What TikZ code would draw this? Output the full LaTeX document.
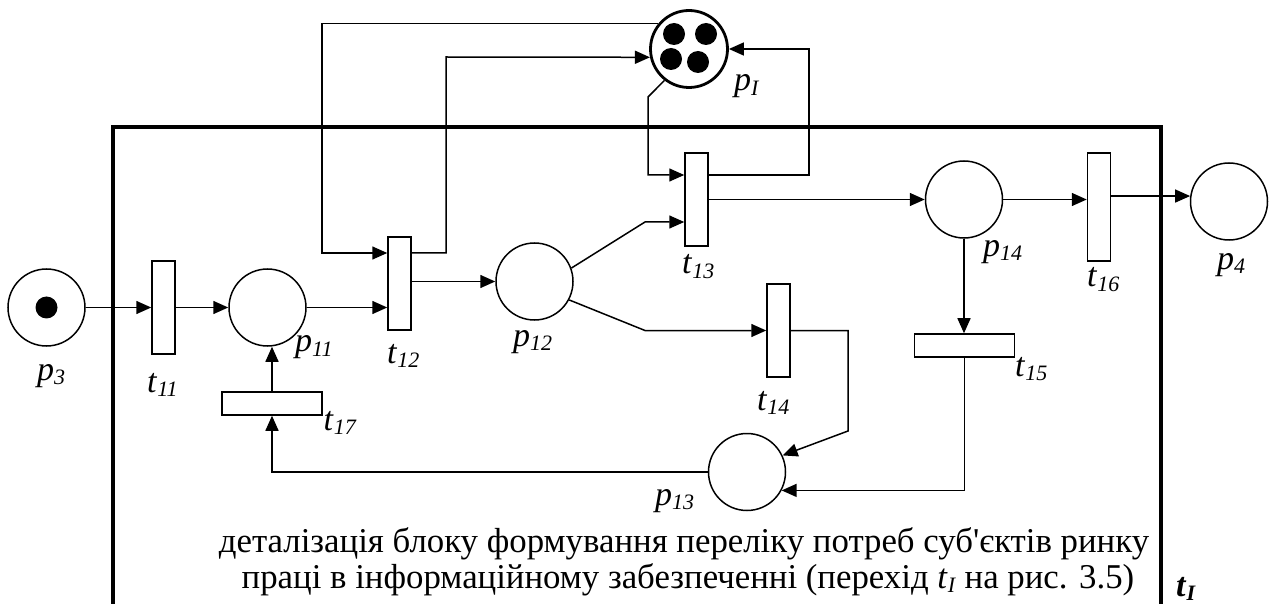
\documentclass[tikz,border=0pt]{standalone}
\usepackage{fontspec}
\setmainfont{Liberation Serif}
% same face without the TeX quote mapping, for a straight apostrophe
\newfontfamily\plainserif{Liberation Serif}
\usetikzlibrary{arrows.meta}

% italic name with a lowered italic index
\newcommand\pname[2]{\textit{#1}\raisebox{-4.5pt}{\fontsize{22}{22}\selectfont\textit{#2}}}

\begin{document}
\begin{tikzpicture}[x=1pt,y=-1pt,
  every node/.style={font=\fontsize{34}{36}\selectfont},
  place/.style={circle,draw,line width=1.5pt,minimum size=77pt,inner sep=0pt},
  trans/.style={rectangle,draw,line width=1.5pt,inner sep=0pt},
  vtrans/.style={trans,minimum width=23pt,minimum height=93pt},
  htrans/.style={trans,minimum width=100pt,minimum height=23pt},
  arc/.style={line width=1.5pt,-{Triangle[length=15pt,width=13pt]}},
  token/.style={circle,fill,inner sep=0pt,minimum size=22pt},
  lab/.style={anchor=base west,inner sep=0pt},
  captext/.style={anchor=base,inner sep=0pt,font=\fontsize{34.8}{36}\selectfont},
  boxline/.style={line width=4pt},
]
\useasboundingbox (0,0) rectangle (1270,604);

% block boundary (open at the bottom)
\draw[boxline] (113,615) -- (113,127) -- (1161,127) -- (1161,615);

% places
\node[place] (p3) at (46.5,307.5) {};
\node[place] (p11) at (267.5,307.5) {};
\node[place] (p12) at (534.5,281.5) {};
\node[place] (p14) at (964,199.5) {};
\node[place] (p4) at (1229,201.5) {};
\node[place] (p13) at (747,472) {};
\node[place, line width=2.8pt] (pI) at (689,49) {};

% tokens
\node[token] (k3) at (p3) {};
\node[token] (k1) at (674,34) {};
\node[token] (k2) at (706,34) {};
\node[token] (k4) at (671,59) {};
\node[token] (k5) at (698,62) {};

% transitions
\node[vtrans] (t11) at (163.5,307.5) {};
\node[vtrans] (t12) at (399.5,283.5) {};
\node[vtrans] (t13) at (696.5,199.5) {};
\node[vtrans] (t14) at (778.5,330.5) {};
\node[vtrans, minimum height=108pt] (t16) at (1099,207) {};
\node[htrans] (t15) at (964.5,345.5) {};
\node[htrans] (t17) at (272,403.5) {};

% arcs
\draw[arc] (p3) -- (t11);
\draw[arc] (t11) -- (p11);
\draw[arc] (p11.east) -- (t12.west |- p11.east);
\draw[arc] (t12.east |- p12.west) -- (p12.west);
\draw[arc] (pI.140) -| (322,253) -- (t12.west |- 0,253);
\draw[arc] (t12.east |- 0,253) -| (446,57) -- (pI.192);
\draw[arc] (pI.232) -- (648,97) |- (t13.west |- 0,175);
\draw[arc] (t13.east |- 0,175) -| (809,49) -- (pI.east);
\draw[arc] (p12.20) -- (645,222) -- (t13.west |- 0,222);
\draw[arc] (p12.-28) -- (645,330.5) -- (t14.west);
\draw[arc] (t13.east |- p14.west) -- (p14.west);
\draw[arc] (p14.east) -- (t16.west |- p14.east);
\draw[arc] (t16.east |- p4.172) -- (p4.172);
\draw[arc] (p14.south) -- (p14.south |- t15.north);
\draw[arc] (t15.south) |- (p13.-28);
\draw[arc] (t14.east) -| (848,431) -- (p13.25);
\draw[arc] (p13.west) -| (t17.south);
\draw[arc] (t17.north) -- (t17.north |- p11.south);

% labels
\node[lab] (lp3) at (37,380) {\pname{p}{3}};
\node[lab] (lt11) at (147,392) {\pname{t}{11}};
\node[lab] (lp11) at (295,352) {\pname{p}{11}};
\node[lab] (lt12) at (387,363) {\pname{t}{12}};
\node[lab] (lp12) at (513,346) {\pname{p}{12}};
\node[lab] (lt13) at (682,274) {\pname{t}{13}};
\node[lab] (lt14) at (757,410) {\pname{t}{14}};
\node[lab] (lp13) at (655,505) {\pname{p}{13}};
\node[lab] (lt17) at (323.5,430) {\pname{t}{17}};
\node[lab] (lt15) at (1015,376) {\pname{t}{15}};
\node[lab] (lp14) at (983,256.5) {\pname{p}{14}};
\node[lab] (lt16) at (1087,287) {\pname{t}{16}};
\node[lab] (lp4) at (1217,269.5) {\pname{p}{4}};
\node[lab] (lpI) at (734,91) {\pname{p}{I}};
\node[lab] (ltI) at (1176,596) {\textbf{\textit{t}}\raisebox{-4pt}{\fontsize{22}{22}\selectfont\bfseries\itshape I}};

% caption of the block
\node[captext] (cap1) at (684,552) {деталізація блоку формування переліку потреб суб{\plainserif'}єктів ринку};
\node[captext] (cap2) at (688,588) {праці в інформаційному забезпеченні (перехід \pname{t}{I} на рис. 3.5)};
\end{tikzpicture}
\end{document}
